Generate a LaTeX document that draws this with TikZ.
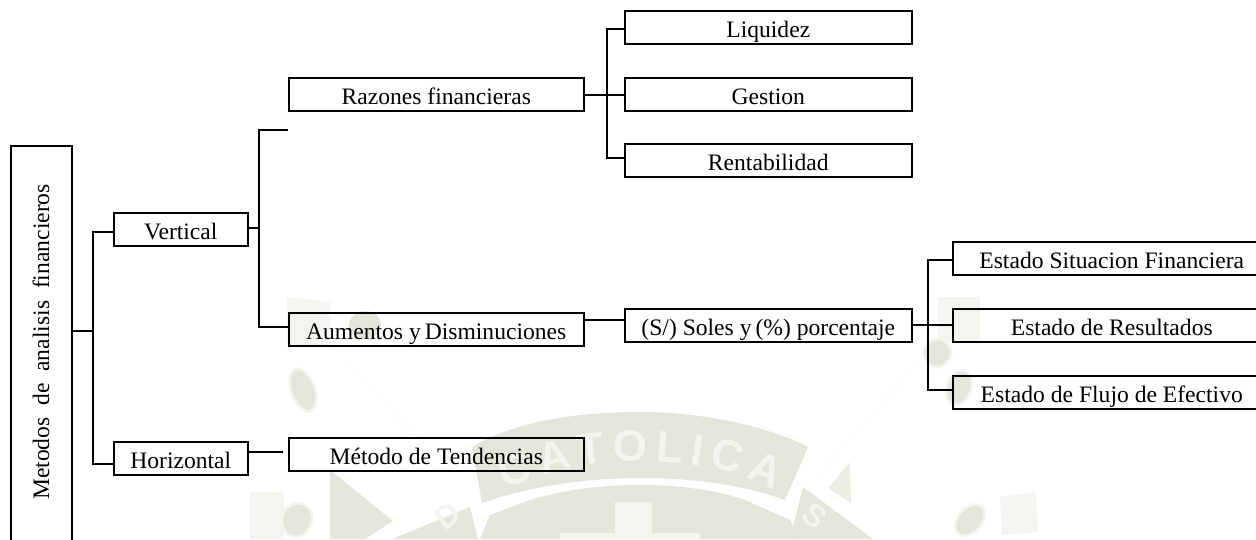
\documentclass[tikz,border=0pt]{standalone}
\usepackage{fontspec}
\usetikzlibrary{decorations.text}
\setmainfont{Liberation Serif}
\setsansfont{Liberation Sans}
\definecolor{wmdark}{HTML}{E5E5DB}
\definecolor{wmmid}{HTML}{EDEDE5}
\definecolor{wmpale}{HTML}{F5F5F0}
\newcommand{\lblfont}{\fontsize{17.7}{20}\selectfont}
\tikzset{
  x=0.75pt,y=-0.75pt,
  boxn/.style={draw=black,line width=1.15pt,fill=none,inner sep=0pt,anchor=north west,align=center,text height=15.75pt,text depth=0pt,font=\lblfont},
  link/.style={draw=black,line width=1.15pt},
  wmd/.style={fill=wmdark,draw=none},
  wmm/.style={fill=wmmid,draw=none},
  wmp/.style={fill=wmpale,draw=none},
  wmring/.style={draw=wmpale,line width=2pt,fill=wmdark}
}
\newcommand{\bx}[6]{\node[boxn,minimum width=#4*0.75pt,minimum height=#5*0.75pt] (#1) at (#2,#3) {#6};}
\begin{document}
\begin{tikzpicture}
\useasboundingbox (0,0) rectangle (1256,539);
\clip (0,0) rectangle (1256,539);
% watermark
\fill[wmd] (472,447) .. controls (520,418) and (590,412) .. (640,412) .. controls (700,412) and (765,425) .. (808,447) -- (785,500) .. controls (740,484) and (690,478) .. (640,478) .. controls (580,478) and (525,488) .. (482,503) -- cycle;
\fill[wmd] (530,500) .. controls (570,488) and (610,485) .. (640,485) .. controls (680,485) and (715,490) .. (745,500) -- (790,520) -- (800,539) -- (480,539) -- (490,515) -- cycle;
\fill[wmd] (470,507) -- (478,539) -- (392,539) -- cycle;
\fill[wmd] (803,487) -- (873,539) -- (790,539) -- cycle;
\fill[wmd] (330,470) -- (393,521) -- (365,539) -- (330,539) -- cycle;
\fill[wmm] (850,462) -- (851,503) -- (828,488) -- cycle;
\fill[wmp] (615,502) rectangle (652,539);
\fill[wmp] (560,533) rectangle (700,539);
\fill[wmp] (250,492) rectangle (284,539);
\fill[wmp] (1000,497) -- (1036,492) -- (1038,532) -- (1002,535) -- cycle;
\fill[wmp] (287,297) -- (330,302) -- (330,345) -- (287,345) -- cycle;
\fill[wmp] (938,297) rectangle (980,342);
\draw[wmp,line width=6pt] (347,363) -- (417,437);
\draw[wmp,line width=6pt] (920,360) -- (817,477);
\fill[wmd] (365,325) ellipse [x radius=16,y radius=14];
\draw[wmring,rotate around={20:(303,390)}] (303,390) ellipse [x radius=12,y radius=22];
\draw[wmring,rotate around={-20:(297,520)}] (297,520) ellipse [x radius=15,y radius=17];
\draw[wmring,rotate around={-40:(970,520)}] (970,520) ellipse [x radius=12,y radius=18];
\draw[wmring,rotate around={-20:(959,388)}] (959,388) ellipse [x radius=12,y radius=18];
\draw[wmring] (937,353) ellipse [x radius=14,y radius=14];
\path[decorate,decoration={text along path,text align={fit to path},text={|\fontsize{33}{36}\sffamily\bfseries\color{wmpale}|CATOLICA}}]
  (506,490) .. controls (560,465) and (600,461) .. (640,461) .. controls (690,461) and (735,470) .. (775,490);
\node[rotate=35,font=\fontsize{24}{26}\sffamily\bfseries,text=wmpale,inner sep=0pt] (wmD) at (448,516) {D};
\node[rotate=-40,font=\fontsize{24}{26}\sffamily\bfseries,text=wmpale,inner sep=0pt] (wmS) at (815,516) {S};
% boxes
\bx{main}{10}{145}{61}{430}{}
\node[rotate=90,font=\lblfont,inner sep=0pt] (mainlabel) at (41,342) {Metodos\ \ de\ \ analisis\ \ financieros};
\bx{vert}{113}{212}{134}{33}{Vertical}
\bx{hori}{113}{441}{134}{33}{Horizontal}
\bx{razo}{288}{77}{295}{33}{Razones financieras}
\bx{aume}{288}{312}{295}{33}{Aumentos y\,Disminuciones}
\bx{meto}{288}{437}{295}{33}{Método de Tendencias}
\bx{liqu}{624}{10}{287}{33}{Liquidez}
\bx{gest}{624}{77}{287}{33}{Gestion}
\bx{rent}{624}{143}{287}{33}{Rentabilidad}
\bx{sole}{624}{308}{287}{33}{(S/) Soles y\,(\%) porcentaje}
\bx{esit}{952}{241}{318}{33}{Estado Situacion Financiera}
\bx{eres}{952}{308}{318}{33}{Estado de Resultados}
\bx{eflu}{952}{375}{318}{33}{Estado de Flujo de Efectivo}
% junctions
\coordinate (s1) at (93,331);
\coordinate (s2) at (259,228);
\coordinate (s3) at (607,95);
\coordinate (s4) at (928,325);
\coordinate (stub) at (288,130);
\coordinate (gapend) at (283,452);
% connectors
\draw[link] (main.east |- s1) -- (s1);
\draw[link] (vert.west |- 0,232) -| (s1) |- (hori.west |- 0,464);
\draw[link] (vert.east |- s2) -- (s2);
\draw[link] (stub) -| (s2) |- (aume.west |- 0,327);
\draw[link] (razo.east |- s3) -- (gest.west |- s3);
\draw[link] (liqu.west |- 0,29) -| (s3) |- (rent.west |- 0,158);
\draw[link] (aume.east |- 0,320) -- (sole.west |- 0,320);
\draw[link] (sole.east |- s4) -- (eres.west |- s4);
\draw[link] (esit.west |- 0,260) -| (s4) |- (eflu.west |- 0,390);
\draw[link] (hori.east |- gapend) -- (gapend);
\end{tikzpicture}
\end{document}
